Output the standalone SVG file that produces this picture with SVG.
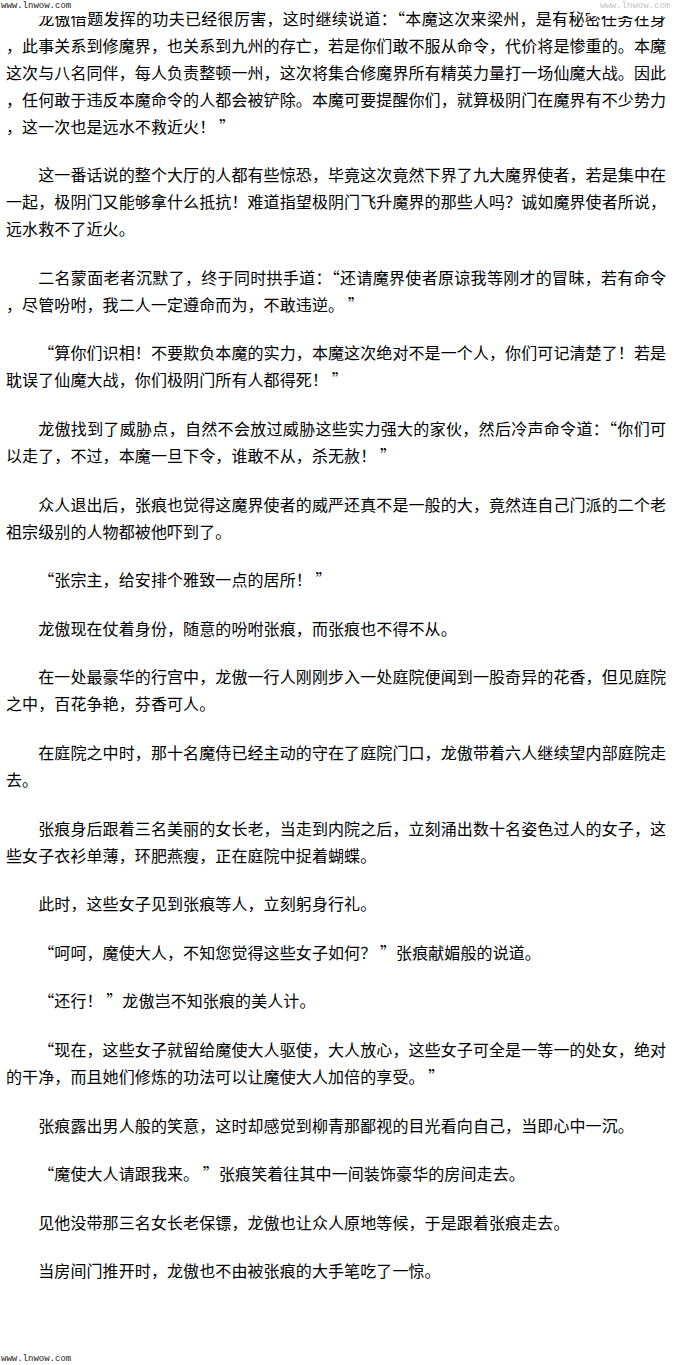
<svg xmlns="http://www.w3.org/2000/svg" width="680" height="1365" viewBox="0 0 680 1365">
<style>
text { font-family: "Noto Sans CJK SC", "Noto Sans CJK JP", sans-serif; font-size: 16px; fill: #000; letter-spacing: 0.1px; }
text.full { letter-spacing: 0; }
text.wm { font-family: "Liberation Mono", monospace; font-size: 9px; letter-spacing: 0; fill: #222; }
text.wm2 { font-family: "Liberation Mono", monospace; font-size: 9px; letter-spacing: 0; fill: #c4c4c4; }
</style>
<rect x="0" y="0" width="680" height="1365" fill="#fff"/>
<g id="p1">
<text class="full" x="38.2" y="24.5" textLength="627.8" lengthAdjust="spacing">龙傲借题发挥的功夫已经很厉害，这时继续说道：“本魔这次来梁州，是有秘密任务在身</text>
<text class="full" x="6" y="51.5" textLength="660" lengthAdjust="spacing">，此事关系到修魔界，也关系到九州的存亡，若是你们敢不服从命令，代价将是惨重的。本魔</text>
<text class="full" x="6" y="78.5" textLength="660" lengthAdjust="spacing">这次与八名同伴，每人负责整顿一州，这次将集合修魔界所有精英力量打一场仙魔大战。因此</text>
<text class="full" x="6" y="105.5" textLength="660" lengthAdjust="spacing">，任何敢于违反本魔命令的人都会被铲除。本魔可要提醒你们，就算极阴门在魔界有不少势力</text>
<text x="6" y="132.5">，这一次也是远水不救近火！ ”</text>
</g>
<g id="p2">
<text class="full" x="38.2" y="181.1" textLength="627.8" lengthAdjust="spacing">这一番话说的整个大厅的人都有些惊恐，毕竟这次竟然下界了九大魔界使者，若是集中在</text>
<text class="full" x="6" y="208.1" textLength="660" lengthAdjust="spacing">一起，极阴门又能够拿什么抵抗！难道指望极阴门飞升魔界的那些人吗？诚如魔界使者所说，</text>
<text x="6" y="235.1">远水救不了近火。</text>
</g>
<g id="p3">
<text class="full" x="38.2" y="283.7" textLength="627.8" lengthAdjust="spacing">二名蒙面老者沉默了，终于同时拱手道：“还请魔界使者原谅我等刚才的冒昧，若有命令</text>
<text x="6" y="310.7">，尽管吩咐，我二人一定遵命而为，不敢违逆。 ”</text>
</g>
<g id="p4">
<text class="full" x="38.2" y="359.3" textLength="627.8" lengthAdjust="spacing">“算你们识相！不要欺负本魔的实力，本魔这次绝对不是一个人，你们可记清楚了！若是</text>
<text x="6" y="386.3">耽误了仙魔大战，你们极阴门所有人都得死！ ”</text>
</g>
<g id="p5">
<text class="full" x="38.2" y="434.9" textLength="627.8" lengthAdjust="spacing">龙傲找到了威胁点，自然不会放过威胁这些实力强大的家伙，然后冷声命令道：“你们可</text>
<text x="6" y="461.9">以走了，不过，本魔一旦下令，谁敢不从，杀无赦！ ”</text>
</g>
<g id="p6">
<text class="full" x="38.2" y="510.5" textLength="627.8" lengthAdjust="spacing">众人退出后，张痕也觉得这魔界使者的威严还真不是一般的大，竟然连自己门派的二个老</text>
<text x="6" y="537.5">祖宗级别的人物都被他吓到了。</text>
</g>
<g id="p7">
<text x="38.2" y="586.1">“张宗主，给安排个雅致一点的居所！ ”</text>
</g>
<g id="p8">
<text x="38.2" y="634.7">龙傲现在仗着身份，随意的吩咐张痕，而张痕也不得不从。</text>
</g>
<g id="p9">
<text class="full" x="38.2" y="683.3" textLength="627.8" lengthAdjust="spacing">在一处最豪华的行宫中，龙傲一行人刚刚步入一处庭院便闻到一股奇异的花香，但见庭院</text>
<text x="6" y="710.3">之中，百花争艳，芬香可人。</text>
</g>
<g id="p10">
<text class="full" x="38.2" y="758.9" textLength="627.8" lengthAdjust="spacing">在庭院之中时，那十名魔侍已经主动的守在了庭院门口，龙傲带着六人继续望内部庭院走</text>
<text x="6" y="785.9">去。</text>
</g>
<g id="p11">
<text class="full" x="38.2" y="834.5" textLength="627.8" lengthAdjust="spacing">张痕身后跟着三名美丽的女长老，当走到内院之后，立刻涌出数十名姿色过人的女子，这</text>
<text x="6" y="861.5">些女子衣衫单薄，环肥燕瘦，正在庭院中捉着蝴蝶。</text>
</g>
<g id="p12">
<text x="38.2" y="910.1">此时，这些女子见到张痕等人，立刻躬身行礼。</text>
</g>
<g id="p13">
<text x="38.2" y="958.7">“呵呵，魔使大人，不知您觉得这些女子如何？ ”张痕献媚般的说道。</text>
</g>
<g id="p14">
<text x="38.2" y="1007.3">“还行！ ”龙傲岂不知张痕的美人计。</text>
</g>
<g id="p15">
<text class="full" x="38.2" y="1055.9" textLength="627.8" lengthAdjust="spacing">“现在，这些女子就留给魔使大人驱使，大人放心，这些女子可全是一等一的处女，绝对</text>
<text x="6" y="1082.9">的干净，而且她们修炼的功法可以让魔使大人加倍的享受。 ”</text>
</g>
<g id="p16">
<text x="38.2" y="1131.5">张痕露出男人般的笑意，这时却感觉到柳青那鄙视的目光看向自己，当即心中一沉。</text>
</g>
<g id="p17">
<text x="38.2" y="1180.1">“魔使大人请跟我来。 ”张痕笑着往其中一间装饰豪华的房间走去。</text>
</g>
<g id="p18">
<text x="38.2" y="1228.7">见他没带那三名女长老保镖，龙傲也让众人原地等候，于是跟着张痕走去。</text>
</g>
<g id="p19">
<text x="38.2" y="1277.3">当房间门推开时，龙傲也不由被张痕的大手笔吃了一惊。</text>
</g>
<g id="watermarks">
<rect x="0" y="0" width="86" height="16" fill="#fff"/>
<rect x="590" y="0" width="90" height="16" fill="#fff"/>
<text class="wm" x="1" y="8">www.lnwow.com</text>
<text class="wm2" x="600" y="8">www.lnwow.com</text>
<text class="wm" x="1" y="1361">www.lnwow.com</text>
</g>
</svg>
